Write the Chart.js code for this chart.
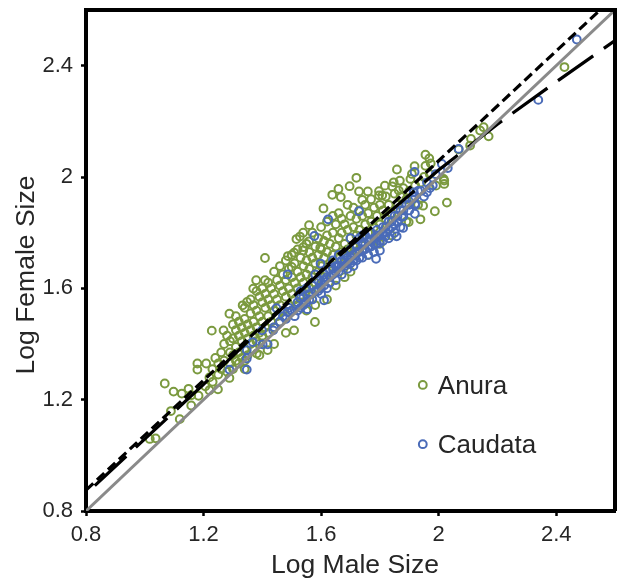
<!DOCTYPE html>
<html><head><meta charset="utf-8">
<style>html,body{margin:0;padding:0;background:#fff}canvas{display:block}</style>
<script src="https://cdn.jsdelivr.net/npm/chart.js@4"></script></head>
<body><canvas id="c" width="621" height="578"></canvas>
<script>
const xTitle = "Log Male Size";
const yTitle = "Log Female Size";
const legendNames = ["Anura", "Caudata"];
const tickStep = 0.4;
const axisMin = 0.8, axisMax = 2.6;
const unityLine = [[0.8,0.8],[2.6,2.6]];
const shortDashLine = [[0.8,0.875],[2.6,2.65]];
const longDashLine = [[0.8,0.862],[1.2,1.255],[1.4,1.46],[1.6,1.66],[1.8,1.845],[2.0,2.025],[2.2,2.19],[2.4,2.342],[2.6,2.49]];
const anura = [
[1.017,1.059],[1.037,1.061],[1.068,1.258],[1.098,1.229],[1.089,1.159],[1.119,1.13],[1.126,1.222],[1.149,1.239],[1.158,1.216],[1.158,1.179],
[1.183,1.214],[1.179,1.33],[1.179,1.308],[1.209,1.33],[1.206,1.248],[1.22,1.234],[1.249,1.237],[1.231,1.264],[1.288,1.278],[1.228,1.448],
[1.288,1.509],[1.268,1.449],[1.379,1.629],[1.409,1.629],[1.369,1.599],[1.348,1.551],[1.333,1.539],[1.508,1.449],[1.579,1.479],[1.418,1.378],
[1.381,1.366],[1.409,1.709],[1.608,1.887],[1.559,1.827],[1.539,1.8],[1.528,1.786],[1.516,1.777],[1.559,1.769],[1.539,1.748],[1.539,1.736],
[1.508,1.728],[1.487,1.716],[1.5,1.677],[1.597,1.746],[1.72,1.997],[1.697,1.967],[1.659,1.957],[1.638,1.936],[1.667,1.928],[1.729,1.948],
[1.759,1.948],[1.74,1.918],[1.858,2.027],[1.918,2.039],[1.955,2.08],[1.968,2.067],[1.973,2.049],[1.955,2.04],[1.868,1.987],[1.847,1.981],
[1.842,1.966],[1.817,1.969],[1.797,1.949],[1.808,1.934],[1.797,1.934],[1.904,1.993],[1.909,2.011],[2.019,1.987],[2.019,1.975],[1.991,1.969],
[2.028,1.908],[1.987,1.877],[1.938,1.848],[1.947,1.897],[1.898,1.838],[1.864,1.952],[2.428,2.395],[2.17,2.146],[2.153,2.179],[2.141,2.167],
[2.11,2.137],[2.107,2.113],[2.068,2.099],[2.017,1.993],
[1.22,1.28],[1.23,1.31],[1.24,1.35],[1.25,1.29],[1.25,1.33],[1.26,1.37],[1.26,1.31],[1.27,1.40],[1.27,1.34],[1.28,1.30],
[1.28,1.43],[1.29,1.37],[1.29,1.41],[1.29,1.33],[1.30,1.47],[1.30,1.42],[1.30,1.36],[1.30,1.31],[1.31,1.50],[1.31,1.45],
[1.31,1.39],[1.31,1.34],[1.32,1.48],[1.32,1.43],[1.32,1.37],[1.32,1.33],[1.33,1.46],[1.33,1.41],[1.33,1.35],[1.34,1.53],
[1.34,1.49],[1.34,1.44],[1.34,1.38],[1.34,1.34],[1.35,1.47],[1.35,1.42],[1.35,1.36],[1.36,1.56],[1.36,1.51],[1.36,1.45],
[1.36,1.40],[1.37,1.54],[1.37,1.48],[1.37,1.43],[1.37,1.38],[1.38,1.59],[1.38,1.52],[1.38,1.46],[1.38,1.41],[1.39,1.57],
[1.39,1.50],[1.39,1.44],[1.39,1.40],[1.40,1.60],[1.40,1.55],[1.40,1.48],[1.40,1.43],[1.41,1.58],[1.41,1.53],[1.41,1.46],
[1.42,1.62],[1.42,1.56],[1.42,1.50],[1.42,1.44],[1.43,1.60],[1.43,1.54],[1.43,1.48],[1.44,1.66],[1.44,1.58],[1.44,1.52],
[1.44,1.46],[1.45,1.63],[1.45,1.56],[1.45,1.50],[1.46,1.68],[1.46,1.61],[1.46,1.54],[1.46,1.48],[1.47,1.65],[1.47,1.59],
[1.47,1.52],[1.48,1.70],[1.48,1.63],[1.48,1.57],[1.48,1.50],[1.49,1.67],[1.49,1.60],[1.49,1.54],[1.50,1.72],[1.50,1.64],
[1.50,1.58],[1.50,1.52],[1.51,1.69],[1.51,1.62],[1.51,1.56],[1.52,1.74],[1.52,1.66],[1.52,1.60],[1.52,1.54],[1.53,1.71],
[1.53,1.64],[1.53,1.57],[1.54,1.68],[1.54,1.62],[1.54,1.55],[1.55,1.76],[1.55,1.70],[1.55,1.65],[1.55,1.59],[1.56,1.73],
[1.56,1.67],[1.56,1.60],[1.57,1.80],[1.57,1.71],[1.57,1.64],[1.57,1.58],[1.58,1.75],[1.58,1.69],[1.58,1.62],[1.59,1.78],
[1.59,1.72],[1.59,1.66],[1.59,1.60],[1.60,1.82],[1.60,1.74],[1.60,1.68],[1.61,1.77],[1.61,1.71],[1.61,1.64],[1.62,1.84],
[1.62,1.79],[1.62,1.73],[1.62,1.66],[1.63,1.76],[1.63,1.69],[1.64,1.86],[1.64,1.80],[1.64,1.72],[1.65,1.83],[1.65,1.75],
[1.65,1.68],[1.66,1.87],[1.66,1.78],[1.66,1.71],[1.67,1.85],[1.67,1.80],[1.67,1.73],[1.68,1.83],[1.68,1.76],[1.68,1.69],
[1.69,1.90],[1.69,1.81],[1.69,1.74],[1.70,1.86],[1.70,1.78],[1.70,1.72],[1.71,1.89],[1.71,1.82],[1.71,1.75],[1.72,1.85],
[1.72,1.79],[1.73,1.88],[1.73,1.81],[1.73,1.74],[1.74,1.86],[1.74,1.78],[1.75,1.90],[1.75,1.83],[1.76,1.87],[1.76,1.80],
[1.77,1.92],[1.77,1.84],[1.78,1.89],[1.78,1.82],[1.79,1.86],[1.80,1.90],[1.80,1.83],[1.81,1.88],[1.82,1.93],[1.82,1.85],
[1.83,1.90],[1.84,1.87],[1.85,1.94],[1.86,1.90],[1.87,1.93],[1.88,1.96],[1.89,1.92],[1.90,1.95],[1.92,1.97],[1.94,1.98],
[1.95,2.00],[1.97,2.01],[1.93,1.90],[1.76,1.72],[1.70,1.66],[1.65,1.61],[1.62,1.56],[1.55,1.52],[1.48,1.44],[1.44,1.40],
[1.34,1.31],[1.39,1.36],[1.58,1.54],[1.68,1.64],[1.84,1.79],[1.80,1.76],[1.89,1.84]
];
const caudata = [
[1.347,1.308],[1.288,1.308],[1.347,1.348],[1.347,1.378],[1.367,1.407],[1.401,1.399],[1.418,1.399],[1.399,1.449],[1.437,1.449],[1.448,1.529],
[1.486,1.515],[1.486,1.65],[1.528,1.565],[1.553,1.525],[1.61,1.557],[1.624,1.848],[1.577,1.788],[1.598,1.689],[1.729,1.877],[1.918,2.018],
[2.011,2.047],[2.068,2.101],[1.96,1.945],[1.919,1.868],[1.879,1.817],[1.857,1.787],[1.787,1.706],[1.8,1.736],[1.819,1.787],[1.915,1.945],
[1.92,1.904],[1.875,1.856],[2.47,2.494],[2.339,2.277],[2.031,2.032],
[1.46,1.48],[1.48,1.49],[1.50,1.52],[1.51,1.50],[1.52,1.55],[1.53,1.53],[1.54,1.57],[1.55,1.55],[1.55,1.60],[1.56,1.58],
[1.57,1.56],[1.57,1.61],[1.58,1.59],[1.59,1.63],[1.60,1.58],[1.60,1.62],[1.61,1.65],[1.62,1.60],[1.62,1.64],[1.63,1.67],
[1.63,1.62],[1.64,1.65],[1.65,1.63],[1.65,1.68],[1.66,1.66],[1.67,1.70],[1.67,1.65],[1.68,1.68],[1.68,1.72],[1.69,1.67],
[1.69,1.71],[1.70,1.69],[1.70,1.74],[1.71,1.68],[1.71,1.72],[1.72,1.70],[1.72,1.75],[1.73,1.73],[1.73,1.78],[1.74,1.71],
[1.74,1.76],[1.75,1.74],[1.75,1.79],[1.76,1.72],[1.76,1.77],[1.77,1.75],[1.77,1.80],[1.78,1.73],[1.78,1.78],[1.79,1.76],
[1.79,1.81],[1.80,1.79],[1.81,1.77],[1.81,1.82],[1.82,1.80],[1.83,1.78],[1.83,1.84],[1.84,1.82],[1.85,1.80],[1.85,1.86],
[1.86,1.84],[1.87,1.82],[1.87,1.88],[1.88,1.86],[1.89,1.90],[1.90,1.88],[1.91,1.92],[1.92,1.90],[1.93,1.95],[1.95,1.93],
[1.96,1.98],[1.98,1.97],[1.99,2.01],[1.74,1.79],[1.70,1.78],[1.66,1.72],[1.64,1.70],[1.61,1.61],[1.58,1.65],[1.53,1.59],
[1.44,1.46],[1.47,1.50],[1.49,1.53],[1.52,1.52],[1.54,1.54],[1.56,1.56],[1.59,1.59],[1.60,1.60],[1.61,1.63],[1.63,1.64],
[1.64,1.67],[1.65,1.66],[1.66,1.68],[1.67,1.68],[1.68,1.70],[1.69,1.69],[1.70,1.71],[1.71,1.70],[1.72,1.73],[1.73,1.71],
[1.74,1.74],[1.75,1.76],[1.76,1.75],[1.77,1.77],[1.78,1.76],[1.79,1.79],[1.80,1.77],[1.81,1.80],[1.82,1.82],[1.83,1.81],
[1.84,1.84],[1.85,1.83],[1.86,1.86],[1.88,1.88],[1.90,1.90],[1.92,1.93],[1.94,1.95],[1.97,1.96]
];
const toPts = a => a.map(p => ({x: p[0], y: p[1]}));
const green = "#7b9a3f", blue = "#4a6bb8", ink = "#262626";
const legendAt = [[1.946,1.253],[1.946,1.04]];
const overlay = {
  id: "overlay",
  afterDraw(ch) {
    const c = ch.ctx, a = ch.chartArea, sx = ch.scales.x, sy = ch.scales.y;
    c.save();
    c.strokeStyle = "#000"; c.lineWidth = 4;
    c.beginPath(); c.moveTo(a.left-2, a.top); c.lineTo(a.right, a.top); c.lineTo(a.right, a.bottom); c.stroke();
    c.fillStyle = ink; c.textBaseline = "middle"; c.textAlign = "left";
    c.font = "26px 'Liberation Sans'";
    legendNames.forEach((n, i) => {
      const px = sx.getPixelForValue(legendAt[i][0]), py = sy.getPixelForValue(legendAt[i][1]);
      c.beginPath(); c.arc(px, py, 3.9, 0, Math.PI*2);
      c.lineWidth = 2; c.strokeStyle = i ? blue : green; c.stroke();
      c.fillText(n, px + 15, py + 2);
    });
    c.textAlign = "center"; c.font = "26.5px 'Liberation Sans'";
    c.fillText(xTitle, 355, 566);
    c.translate(27, 275); c.rotate(-Math.PI/2);
    c.fillText(yTitle, 0, 0);
    c.restore();
  }
};
const fmt = v => String(+(+v).toFixed(1));
const axis = (size, pad) => ({
  type: "linear", min: axisMin, max: axisMax,
  afterFit: s => {
    if (s.isHorizontal()) s.height = size; else s.width = size;
    s.paddingTop = 0; s.paddingBottom = 0; s.paddingLeft = 0; s.paddingRight = 0;
  },
  border: {color: "#000", width: 4},
  grid: {drawOnChartArea: false, color: "#000", tickLength: 5, tickWidth: 2.5, tickColor:"#000"},
  ticks: {stepSize: tickStep, includeBounds: false, autoSkip: false, maxRotation: 0, color: ink, padding: pad,
          font: {family: "'Liberation Sans'", size: 22}, callback: fmt}
});
const lineDs = (pts, color, w, dash, order, off) => ({
  data: toPts(pts), showLine: true, pointRadius: 0, borderColor: color, borderWidth: w,
  borderDash: dash, borderDashOffset: off || 0, fill: false, tension: 0, order, borderCapStyle: "butt"
});
new Chart(document.getElementById("c"), {
  type: "scatter",
  data: {datasets: [
    {label: legendNames[0], data: toPts(anura), pointRadius: 3.9, pointBorderWidth: 2, pointBackgroundColor: "rgba(0,0,0,0)", pointBorderColor: green, order: 5},
    {label: legendNames[1], data: toPts(caudata), pointRadius: 3.9, pointBorderWidth: 2, pointBackgroundColor: "rgba(0,0,0,0)", pointBorderColor: blue, order: 4},
    lineDs(longDashLine, "#000", 3.2, [43, 13], 3, 44),
    lineDs(shortDashLine, "#000", 3.2, [10, 5], 2),
    lineDs(unityLine, "#8a8a8a", 3, [], 1)
  ]},
  plugins: [overlay],
  options: {
    responsive: false, animation: false, devicePixelRatio: 1,
    layout: {padding: {top: 10, right: 4, left: 0, bottom: 0}},
    plugins: {legend: {display: false}, tooltip: {enabled: false}},
    scales: {x: axis(67, 6), y: axis(86, 8)}
  }
});
</script></body></html>
